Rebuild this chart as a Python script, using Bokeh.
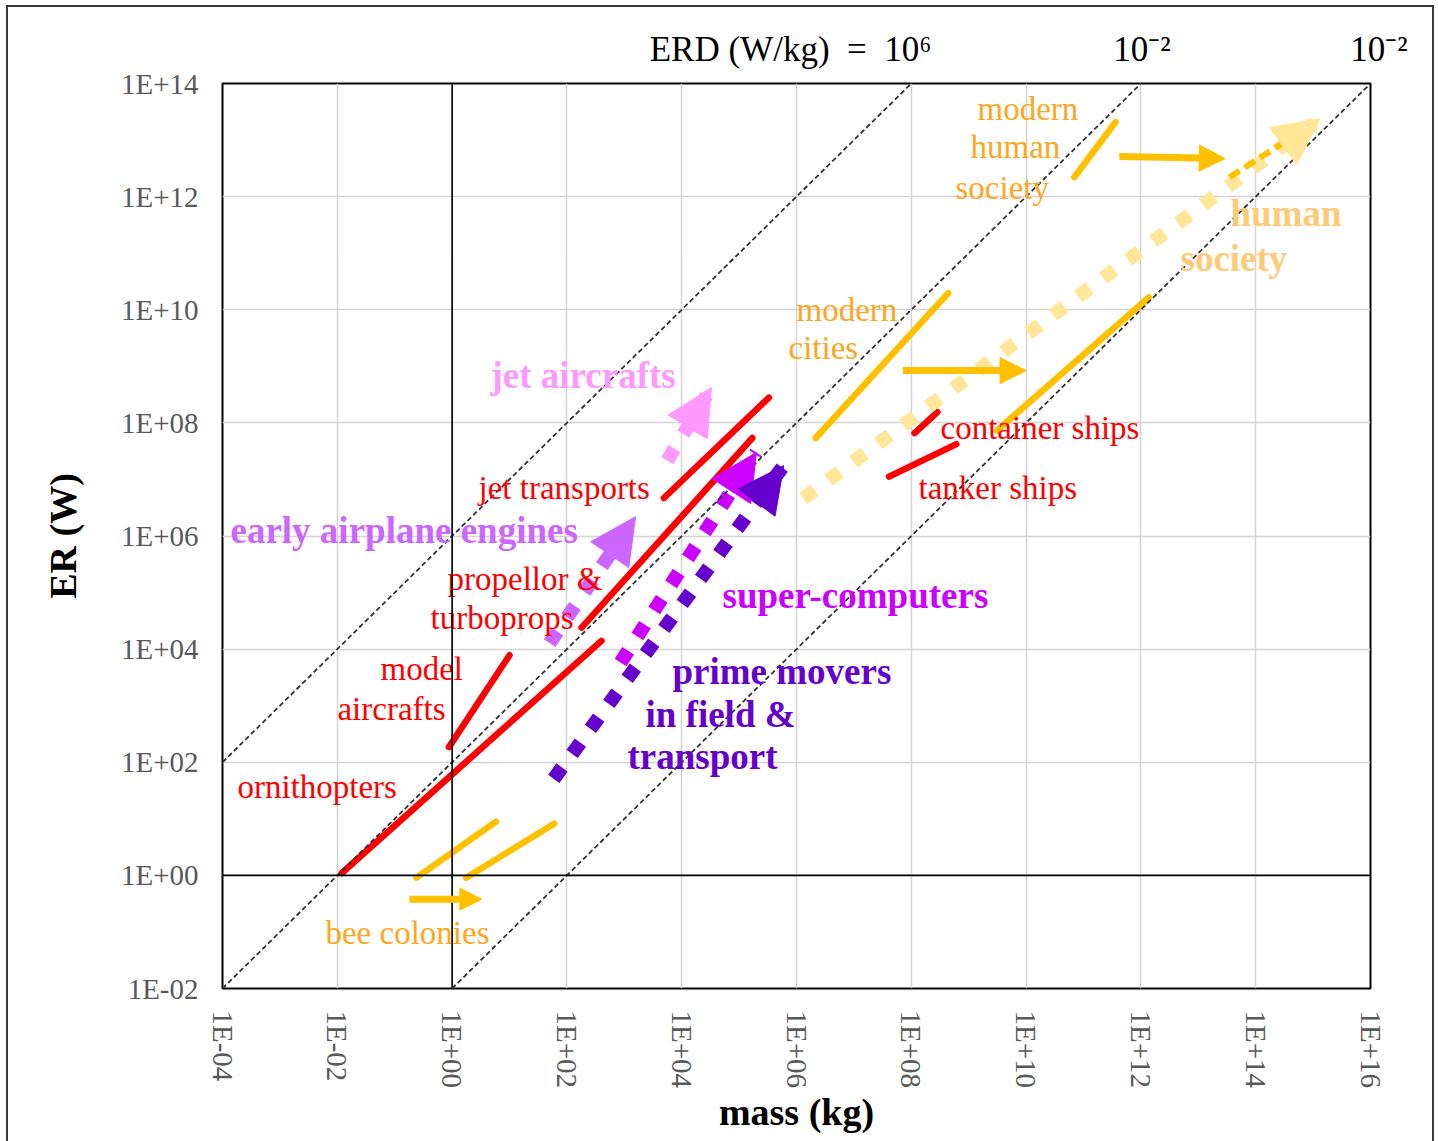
import math
from bokeh.plotting import figure
from bokeh.models import (Range1d, FixedTicker, CustomJSTickFormatter, Span, Arrow,
                          NormalHead, LogAxis)
from bokeh.core.properties import value
from bokeh.embed import file_html
from bokeh.resources import INLINE

# ---------------- data ----------------
x_ticks = [1e-4, 1e-2, 1e0, 1e2, 1e4, 1e6, 1e8, 1e10, 1e12, 1e14, 1e16]
y_ticks = [1e-2, 1e0, 1e2, 1e4, 1e6, 1e8, 1e10, 1e12, 1e14]
erd_levels = [1e6, 1e2, 1e-2]          # W/kg, dashed iso-ERD lines
erd_captions = ["ERD (W/kg)\u00a0\u00a0=\u00a0\u00a010\u2076", "10\u207b\u00b2",
                "\u00a0\u00a010\u207b\u00b2"]
erd_caption_mass = [7.9e5, 1.05e12, 9.9e15]   # where each caption sits along the top

# solid red lines: mass (kg), power (W)
ornithopters_m = [1.2e-2, 4.0e2]
ornithopters_p = [1.1e0, 1.4e4]
model_aircrafts_m = [0.88, 10.0]
model_aircrafts_p = [1.85e2, 7.8e3]
turboprops_m = [1.8e2, 1.7e5]
turboprops_p = [2.4e4, 5.4e7]
jet_transports_m = [4.9e3, 3.3e5]
jet_transports_p = [4.7e6, 2.8e8]
container_ships_m = [1.14e8, 2.85e8]
container_ships_p = [6.6e7, 1.55e8]
tanker_ships_m = [4.1e7, 6.1e8]
tanker_ships_p = [1.12e7, 4.2e7]

# solid orange lines
bee_a_m = [0.24, 5.8]
bee_a_p = [0.91, 8.9]
bee_b_m = [1.76, 60.0]
bee_b_p = [0.91, 8.2]
cities_a_m = [2.16e6, 4.4e8]
cities_a_p = [5.4e7, 1.97e10]
cities_b_m = [3.1e9, 1.37e12]
cities_b_p = [7.3e7, 1.65e10]
modern_society_m = [6.9e10, 3.6e11]
modern_society_p = [2.2e12, 2.07e13]
society_dash_m = [3.5e13, 2.8e14]
society_dash_p = [2.2e12, 8.5e12]

# orange shift arrows (start, end)
bee_arrow_m = [0.18, 3.3]
bee_arrow_p = [0.38, 0.38]
cities_arrow_m = [7.1e7, 1.0e10]
cities_arrow_p = [8.4e8, 8.4e8]
society_arrow_m = [4.2e11, 2.95e13]
society_arrow_p = [5.1e12, 4.7e12]

# dotted trend arrows (start, tip)
jet_aircrafts_m = [5.6e3, 3.3e4]
jet_aircrafts_p = [2.16e7, 4.2e8]
early_engines_m = [50.0, 1.57e3]
early_engines_p = [1.28e4, 2.2e6]
supercomputers_m = [8.6e2, 2.0e5]
supercomputers_p = [5.8e3, 3.0e7]
prime_movers_m = [59.0, 6.0e5]
prime_movers_p = [51.0, 1.76e7]
human_society_m = [1.32e6, 1.32e15]
human_society_p = [4.6e6, 2.38e13]

# ---------------- figure ----------------
SERIF = "Liberation Serif"
W, H = 1424, 1134
p = figure(width=W, height=H, x_axis_type="log", y_axis_type="log",
           x_range=Range1d(1e-4, 1e16), y_range=Range1d(1e-2, 1e14),
           output_backend="svg", toolbar_location=None,
           min_border_left=214, min_border_right=62, min_border_top=76,
           min_border_bottom=153, background_fill_color="white",
           border_fill_color="white")
p.margin = (7, 0, 0, 8)
p.styles = {"outline": "2px solid #3a3a3a"}
p.outline_line_color = "black"
p.outline_line_width = 2

fmt = CustomJSTickFormatter(code="""
const e = Math.round(Math.log10(tick));
const a = Math.abs(e);
return "1E" + (e < 0 ? "-" : "+") + (a < 10 ? "0" : "") + a;
""")
for ax, ticks in ((p.xaxis[0], x_ticks), (p.yaxis[0], y_ticks)):
    ax.ticker = FixedTicker(ticks=ticks, minor_ticks=[])
    ax.formatter = fmt
    ax.major_label_text_font = SERIF
    ax.major_label_text_font_size = "29px"
    ax.major_label_text_color = "#595959"
    ax.axis_line_color = None
    ax.major_tick_line_color = None
    ax.minor_tick_line_color = None
    ax.major_tick_out = 0
    ax.major_tick_in = 0
    ax.axis_label_text_font = SERIF
    ax.axis_label_text_font_style = "bold"
    ax.axis_label_text_font_size = "38px"
    ax.axis_label_text_color = "black"
p.xaxis.major_label_orientation = -math.pi / 2
p.xaxis.axis_label = "mass (kg)"
p.yaxis.axis_label = "ER (W)"
p.xaxis.major_label_standoff = 22
p.yaxis.major_label_standoff = 24
p.xaxis.axis_label_standoff = 0
p.yaxis.axis_label_standoff = 34

# ERD captions along the top edge, as labels of an extra axis
cap_axis = LogAxis(
    ticker=FixedTicker(ticks=erd_caption_mass, minor_ticks=[]),
    formatter=CustomJSTickFormatter(args=dict(labels=erd_captions),
                                    code="return labels[index];"),
    axis_line_color=None, major_tick_line_color=None, minor_tick_line_color=None,
    major_tick_out=0, major_tick_in=0, major_label_standoff=15,
    major_label_text_font=SERIF, major_label_text_font_size="35px",
    major_label_text_color="black")
p.add_layout(cap_axis, "above")

p.grid.grid_line_color = "#d4d4d4"
p.grid.grid_line_width = 1.5

p.add_layout(Span(location=1, dimension="height", line_color="black", line_width=1.6))
p.add_layout(Span(location=1, dimension="width", line_color="black", line_width=1.6))

RED = "#ff0000"
ORANGE = "#ffc000"

for m, pw in ((ornithopters_m, ornithopters_p), (model_aircrafts_m, model_aircrafts_p),
              (turboprops_m, turboprops_p), (jet_transports_m, jet_transports_p),
              (container_ships_m, container_ships_p), (tanker_ships_m, tanker_ships_p)):
    p.line(m, pw, line_color=RED, line_width=6.5, line_cap="round")

for m, pw in ((bee_a_m, bee_a_p), (bee_b_m, bee_b_p), (cities_a_m, cities_a_p),
              (cities_b_m, cities_b_p), (modern_society_m, modern_society_p)):
    p.line(m, pw, line_color=ORANGE, line_width=6.5, line_cap="round")

# dotted trend arrows
for m, pw, col in ((human_society_m, human_society_p, "#ffe699"),
                   (early_engines_m, early_engines_p, "#cc66ff"),
                   (jet_aircrafts_m, jet_aircrafts_p, "#ff99ff"),
                   (supercomputers_m, supercomputers_p, "#cc00ff"),
                   (prime_movers_m, prime_movers_p, "#6600cc")):
    p.line(m, pw, line_color=col, line_width=14, line_dash="14 17", line_cap="butt")
    p.add_layout(Arrow(end=NormalHead(size=46, fill_color=col, line_color=col),
                       x_start=m[0], y_start=pw[0], x_end=m[1], y_end=pw[1],
                       line_color=None))

p.line(society_dash_m, society_dash_p, line_color=ORANGE, line_width=6, line_dash="12 6")

for m, pw, sz in ((bee_arrow_m, bee_arrow_p, 22), (cities_arrow_m, cities_arrow_p, 26),
                  (society_arrow_m, society_arrow_p, 26)):
    p.add_layout(Arrow(end=NormalHead(size=sz, fill_color=ORANGE, line_color=ORANGE),
                       x_start=m[0], y_start=pw[0], x_end=m[1], y_end=pw[1],
                       line_color=ORANGE, line_width=7))

# iso-ERD dashed lines
x_lo, x_hi, y_lo, y_hi = 1e-4, 1e16, 1e-2, 1e14
for erd in erd_levels:
    xs = [max(x_lo, y_lo / erd), min(x_hi, y_hi / erd)]
    ys = [erd * x for x in xs]
    p.line(xs, ys, line_color="#333333", line_width=1.8, line_dash="5 3")

# ---------------- text labels (left edge, vertical centre; log10 coordinates) --------
labels = [
    ("jet aircrafts", 0.669, 8.838, "#ff99ff", "37px", "bold"),
    ("early airplane engines", -3.861, 6.097, "#cc66ff", "37px", "bold"),
    ("super-computers", 4.711, 4.948, "#cc00ff", "37px", "bold"),
    ("prime movers", 3.84, 3.604, "#6600cc", "37px", "bold"),
    ("in field &", 3.369, 2.844, "#6600cc", "37px", "bold"),
    ("transport", 3.056, 2.101, "#6600cc", "37px", "bold"),
    ("jet transports", 0.46, 6.857, RED, "33px", "normal"),
    ("propellor &", -0.08, 5.248, RED, "33px", "normal"),
    ("turboprops", -0.376, 4.559, RED, "33px", "normal"),
    ("model", -1.247, 3.64, RED, "33px", "normal"),
    ("aircrafts", -1.997, 2.933, RED, "33px", "normal"),
    ("ornithopters", -3.739, 1.554, RED, "33px", "normal"),
    ("container ships", 8.509, 7.918, RED, "33px", "normal"),
    ("tanker ships", 8.125, 6.857, RED, "33px", "normal"),
    ("bee colonies", -2.206, -1.01, "#ffa620", "33px", "normal"),
    ("modern", 6.0, 10.004, "#ffa620", "33px", "normal"),
    ("cities", 5.861, 9.315, "#ffa620", "33px", "normal"),
    ("modern", 9.153, 13.558, "#ffa620", "33px", "normal"),
    ("human", 9.031, 12.869, "#ffa620", "33px", "normal"),
    ("society", 8.77, 12.161, "#ffa620", "33px", "normal"),
    ("human", 13.561, 11.702, "#ffc978", "37px", "bold"),
    ("society", 12.69, 10.906, "#ffc978", "37px", "bold"),
]
for txt, lx, ly, col, size, style in labels:
    p.text(x=[10 ** lx], y=[10 ** ly], text=[txt], text_font=value(SERIF),
           text_font_size=size, text_font_style=style, text_color=col,
           text_align="left", text_baseline="middle")

open("out.html", "w").write(file_html(p, INLINE))
